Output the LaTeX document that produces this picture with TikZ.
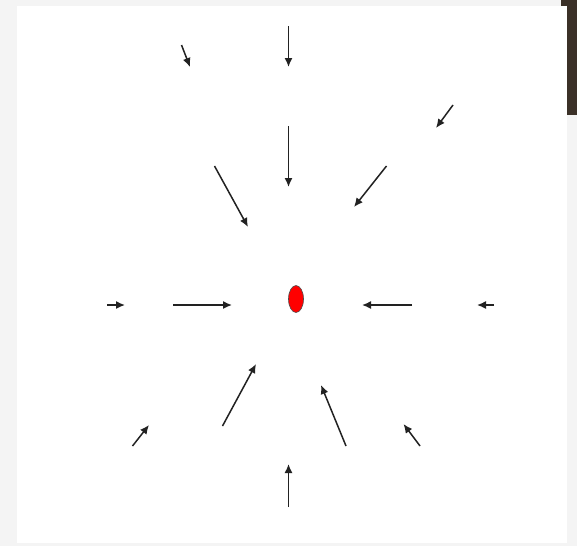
\documentclass[tikz,border=0pt]{standalone}
\usetikzlibrary{arrows.meta,shapes.geometric}
\definecolor{bgpaper}{HTML}{F4F4F4}
\definecolor{darkbar}{HTML}{3B3128}
\definecolor{chargered}{HTML}{FF0000}
\definecolor{arrowink}{HTML}{222222}
\tikzset{
  fieldarrow/.style={draw=arrowink, line width=1.5pt, -{Latex[length=9pt,width=8pt]}},
  charge/.style={ellipse, fill=chargered, draw=black!70, line width=0.6pt, minimum width=15pt, minimum height=27pt, inner sep=0pt}
}
\begin{document}
\begin{tikzpicture}[x=1pt,y=-1pt]
\useasboundingbox (0,0) rectangle (577,546);
\fill[bgpaper] (0,0) rectangle (577,546);
\fill[darkbar] (561,0) rectangle (577,115);
\fill[white] (17,6) rectangle (567,543);
\node[charge] (q) at (296,299) {};
% arrow endpoints
\coordinate (a1s) at (181.5,45); \coordinate (a1e) at (190,67);
\coordinate (a2s) at (288.5,26); \coordinate (a2e) at (288.5,67);
\coordinate (a3s) at (453,105); \coordinate (a3e) at (436,128);
\coordinate (a4s) at (288.5,126); \coordinate (a4e) at (288.5,187);
\coordinate (a5s) at (214.5,166); \coordinate (a5e) at (248,227);
\coordinate (a6s) at (386.5,166); \coordinate (a6e) at (354,207);
\coordinate (a7s) at (107,305); \coordinate (a7e) at (125,305);
\coordinate (a8s) at (173,305); \coordinate (a8e) at (232,305);
\coordinate (a9s) at (412,305); \coordinate (a9e) at (362,305);
\coordinate (a10s) at (494,305); \coordinate (a10e) at (477,305);
\coordinate (a11s) at (222.5,426); \coordinate (a11e) at (256,364);
\coordinate (a12s) at (346,446); \coordinate (a12e) at (321,385);
\coordinate (a13s) at (132.5,446); \coordinate (a13e) at (149,425);
\coordinate (a14s) at (420,446); \coordinate (a14e) at (403.5,424);
\coordinate (a15s) at (288.5,507); \coordinate (a15e) at (288.5,464);
\foreach \i in {1,...,15} {\draw[fieldarrow] (a\i s) -- (a\i e);}
\end{tikzpicture}
\end{document}
